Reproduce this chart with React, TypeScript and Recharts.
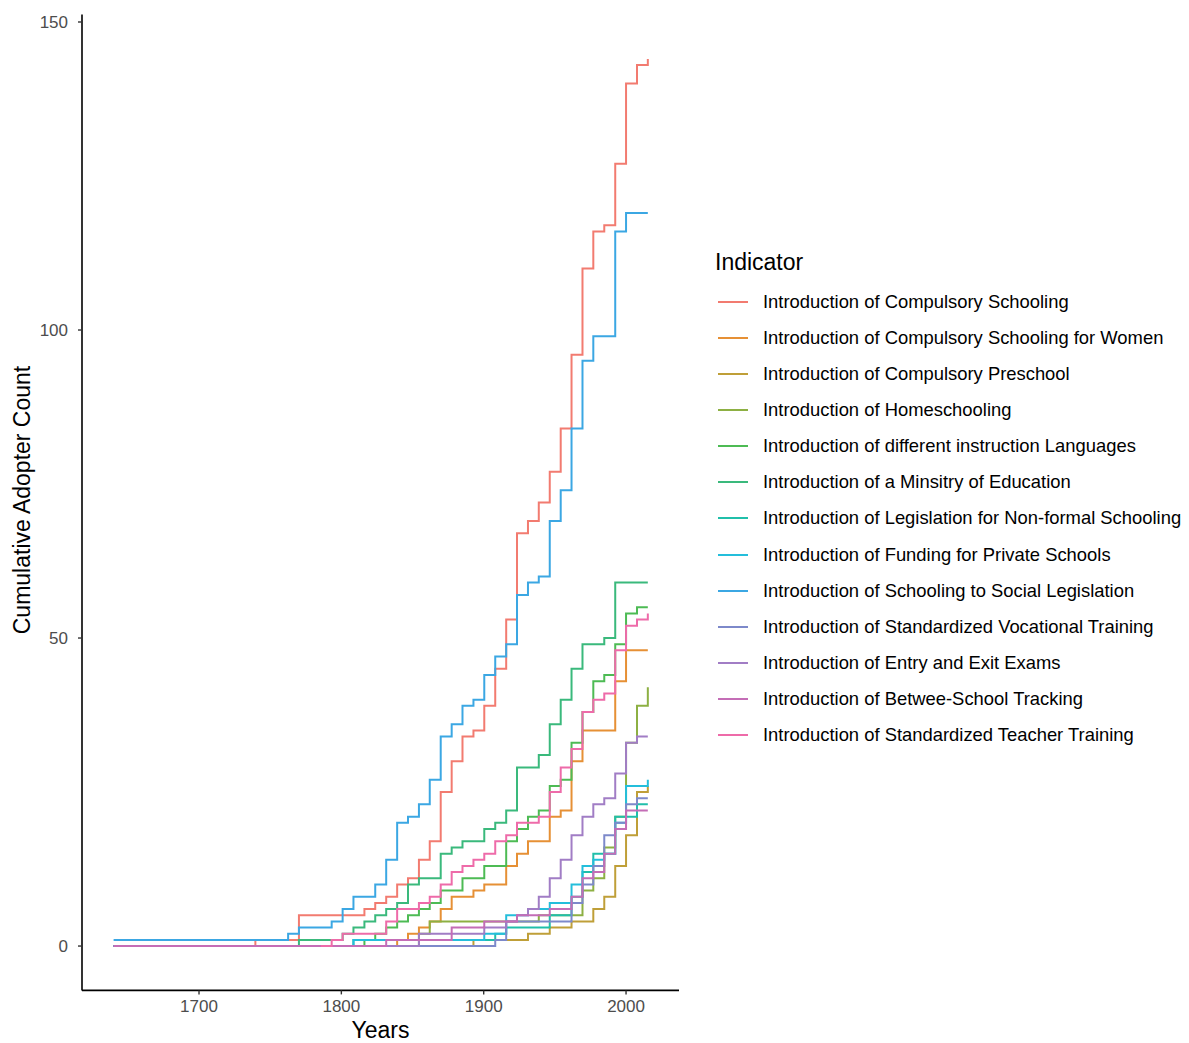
import React from 'react';
import { LineChart, Line, XAxis, YAxis, Label } from 'recharts';

const years = [
  1640, 1647.7, 1655.3, 1663, 1670.6, 1678.3, 1686, 1693.6, 1701.3, 1708.9,
  1716.6, 1724.3, 1731.9, 1739.6, 1747.2, 1754.9, 1762.6, 1770.2, 1777.9, 1785.5,
  1793.2, 1800.9, 1808.5, 1816.2, 1823.8, 1831.5, 1839.2, 1846.8, 1854.5, 1862.1,
  1869.8, 1877.5, 1885.1, 1892.8, 1900.4, 1908.1, 1915.8, 1923.4, 1931.1, 1938.7,
  1946.4, 1954.1, 1961.7, 1969.4, 1977, 1984.7, 1992.4, 2000, 2007.7, 2015.3,
];

const compulsory = [
  0, 0, 0, 0, 0, 0, 0, 0, 0, 0,
  0, 0, 0, 1, 1, 1, 1, 5, 5, 5,
  5, 5, 5, 6, 7, 8, 10, 11, 14, 17,
  25, 30, 34, 35, 39, 45, 53, 67, 69, 72,
  77, 84, 96, 110, 116, 117, 127, 140, 143, 144,
];
const women = [
  0, 0, 0, 0, 0, 0, 0, 0, 0, 0,
  0, 0, 0, 0, 0, 0, 0, 0, 0, 0,
  0, 0, 0, 0, 0, 0, 1, 2, 3, 4,
  6, 8, 8, 9, 10, 10, 13, 15, 17, 17,
  21, 22, 30, 35, 35, 35, 43, 48, 48, 48,
];
const preschool = [
  0, 0, 0, 0, 0, 0, 0, 0, 0, 0,
  0, 0, 0, 0, 0, 0, 0, 0, 0, 0,
  0, 0, 0, 0, 0, 0, 0, 0, 0, 0,
  0, 0, 0, 1, 1, 1, 1, 1, 2, 2,
  3, 3, 4, 4, 6, 8, 13, 18, 25, 26,
];
const homeschooling = [
  0, 0, 0, 0, 0, 0, 0, 0, 0, 0,
  0, 0, 0, 0, 0, 0, 0, 0, 0, 0,
  0, 0, 0, 0, 0, 0, 0, 0, 2, 4,
  4, 4, 4, 4, 4, 4, 4, 4, 4, 5,
  5, 5, 5, 9, 11, 16, 21, 33, 39, 42,
];
const languages = [
  0, 0, 0, 0, 0, 0, 0, 0, 0, 0,
  0, 0, 0, 0, 0, 0, 0, 0, 0, 0,
  0, 0, 0, 1, 2, 3, 4, 5, 6, 7,
  9, 9, 11, 11, 13, 13, 17, 19, 21, 22,
  26, 27, 33, 38, 43, 44, 49, 54, 55, 55,
];
const ministry = [
  0, 0, 0, 0, 0, 0, 0, 0, 0, 0,
  0, 0, 0, 0, 0, 0, 0, 1, 1, 1,
  1, 2, 3, 4, 5, 6, 7, 10, 11, 11,
  15, 16, 17, 17, 19, 20, 22, 29, 29, 31,
  36, 40, 45, 49, 49, 50, 59, 59, 59, 59,
];
const nonFormal = [
  0, 0, 0, 0, 0, 0, 0, 0, 0, 0,
  0, 0, 0, 0, 0, 0, 0, 0, 0, 0,
  0, 0, 1, 1, 1, 1, 1, 1, 1, 1,
  1, 1, 1, 1, 1, 2, 3, 3, 3, 3,
  5, 5, 8, 12, 15, 15, 21, 21, 23, 23,
];
const privateFunding = [
  0, 0, 0, 0, 0, 0, 0, 0, 0, 0,
  0, 0, 0, 0, 0, 0, 0, 0, 0, 0,
  0, 0, 1, 1, 1, 1, 1, 1, 1, 1,
  1, 1, 1, 1, 2, 2, 5, 5, 6, 6,
  7, 7, 10, 13, 14, 15, 20, 26, 26, 27,
];
const socialLegislation = [
  1, 1, 1, 1, 1, 1, 1, 1, 1, 1,
  1, 1, 1, 1, 1, 1, 2, 3, 3, 3,
  4, 6, 8, 8, 10, 14, 20, 21, 23, 27,
  34, 36, 39, 40, 44, 47, 49, 57, 59, 60,
  69, 74, 84, 95, 99, 99, 116, 119, 119, 119,
];
const vocational = [
  0, 0, 0, 0, 0, 0, 0, 0, 0, 0,
  0, 0, 0, 0, 0, 0, 0, 0, 0, 0,
  0, 0, 0, 0, 0, 0, 0, 0, 0, 0,
  0, 0, 0, 0, 0, 1, 4, 4, 4, 4,
  4, 4, 7, 10, 13, 18, 20, 23, 24, 24,
];
const exams = [
  0, 0, 0, 0, 0, 0, 0, 0, 0, 0,
  0, 0, 0, 0, 0, 0, 0, 0, 0, 0,
  0, 0, 0, 0, 0, 0, 0, 0, 2, 2,
  2, 2, 2, 2, 3, 3, 4, 5, 6, 8,
  11, 14, 18, 21, 23, 24, 28, 33, 34, 34,
];
const tracking = [
  0, 0, 0, 0, 0, 0, 0, 0, 0, 0,
  0, 0, 0, 0, 0, 0, 0, 0, 0, 0,
  0, 0, 0, 0, 0, 1, 1, 1, 1, 1,
  1, 3, 3, 3, 4, 4, 4, 5, 5, 5,
  6, 6, 8, 11, 12, 15, 19, 22, 22, 22,
];
const teacher = [
  null, null, null, null, null, null, null, null, null, null,
  null, null, null, null, null, null, null, null, null, 0,
  1, 2, 2, 2, 2, 4, 6, 6, 7, 8,
  10, 12, 13, 14, 15, 17, 18, 20, 20, 21,
  25, 29, 32, 38, 40, 41, 48, 52, 53, 54,
];

const seriesNames = [
  'Introduction of Compulsory Schooling',
  'Introduction of Compulsory Schooling for Women',
  'Introduction of Compulsory Preschool',
  'Introduction of Homeschooling',
  'Introduction of different instruction Languages',
  'Introduction of a Minsitry of Education',
  'Introduction of Legislation for Non-formal Schooling',
  'Introduction of Funding for Private Schools',
  'Introduction of Schooling to Social Legislation',
  'Introduction of Standardized Vocational Training',
  'Introduction of Entry and Exit Exams',
  'Introduction of Betwee-School Tracking',
  'Introduction of Standardized Teacher Training',
];

const seriesColors = [
  '#F27B70', '#E69035', '#BF9F38', '#8DB043', '#4DBB54', '#3AB97C', '#20BFAA',
  '#24BEDB', '#3BA7E3', '#7D89CA', '#A17DC5', '#C46DB6', '#EE6BA9',
];

const seriesValues = [
  compulsory, women, preschool, homeschooling, languages, ministry, nonFormal,
  privateFunding, socialLegislation, vocational, exams, tracking, teacher,
];

const xTicks = [1700, 1800, 1900, 2000];
const yTicks = [0, 50, 100, 150];

const data = years.map((year, i) => {
  const row: Record<string, number | null> = { year };
  seriesValues.forEach((vals, j) => {
    row['s' + j] = vals[i];
  });
  return row;
});

const FONT = '"Liberation Sans", Arial, Helvetica, sans-serif';

export default function App() {
  return (
    <div
      style={{
        position: 'absolute',
        left: 0,
        top: 0,
        width: 1189,
        height: 1043,
        background: '#ffffff',
        fontFamily: FONT,
      }}
    >
      <LineChart
        width={1189}
        height={1043}
        data={data}
        margin={{ top: 14.6, right: 510, bottom: 0, left: 0 }}
      >
        <XAxis
          dataKey="year"
          type="number"
          domain={[1617.8, 2037.2]}
          ticks={xTicks}
          height={52.6}
          axisLine={{ stroke: '#000000', strokeWidth: 1.6 }}
          tickLine={{ stroke: '#333333', strokeWidth: 1.4 }}
          tickSize={4}
          tickMargin={5.6}
          tick={{ fontSize: 17, fill: '#4D4D4D', fontFamily: FONT }}
          allowDataOverflow
        >
          <Label
            content={() => (
              <text
                x={380.5}
                y={1030}
                textAnchor="middle"
                dominantBaseline="central"
                fontSize={23}
                fill="#000000"
                fontFamily={FONT}
              >
                Years
              </text>
            )}
          />
        </XAxis>
        <YAxis
          type="number"
          domain={[-7.2, 151.2]}
          ticks={yTicks}
          width={82}
          axisLine={{ stroke: '#000000', strokeWidth: 1.6 }}
          tickLine={{ stroke: '#333333', strokeWidth: 1.4 }}
          tickSize={4}
          tickMargin={10}
          tick={{ fontSize: 17, fill: '#4D4D4D', fontFamily: FONT }}
          allowDataOverflow
        >
          <Label
            content={() => (
              <text
                x={22}
                y={500}
                transform="rotate(-90 22 500)"
                textAnchor="middle"
                dominantBaseline="central"
                fontSize={23}
                fill="#000000"
                fontFamily={FONT}
              >
                Cumulative Adopter Count
              </text>
            )}
          />
        </YAxis>
        {seriesNames.map((name, j) => (
          <Line
            key={name}
            name={name}
            dataKey={'s' + j}
            type="stepAfter"
            stroke={seriesColors[j]}
            strokeWidth={2}
            dot={false}
            activeDot={false}
            isAnimationActive={false}
            connectNulls={false}
          />
        ))}
      </LineChart>
      <div
        style={{
          position: 'absolute',
          left: 715,
          top: 244,
          fontSize: 23,
          lineHeight: '36px',
          color: '#000000',
          fontFamily: FONT,
        }}
      >
        Indicator
      </div>
      {seriesNames.map((name, j) => (
        <div
          key={name}
          style={{
            position: 'absolute',
            left: 718,
            top: 302 + j * 36.08 - 18,
            height: 36,
            display: 'flex',
            alignItems: 'center',
            fontFamily: FONT,
          }}
        >
          <svg width={30} height={36} style={{ display: 'block' }}>
            <line x1={0} y1={18} x2={30} y2={18} stroke={seriesColors[j]} strokeWidth={2} />
          </svg>
          <span
            style={{
              marginLeft: 15,
              fontSize: 18.4,
              color: '#000000',
              whiteSpace: 'nowrap',
            }}
          >
            {name}
          </span>
        </div>
      ))}
    </div>
  );
}
